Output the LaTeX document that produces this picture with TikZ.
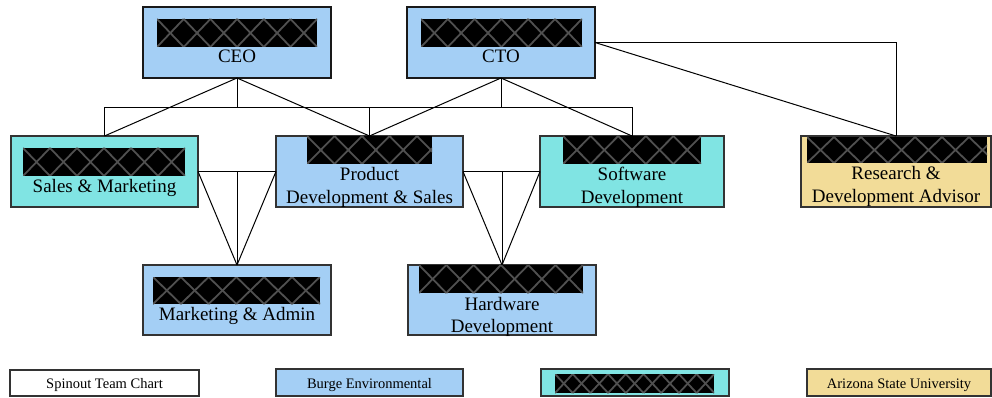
\documentclass[tikz,border=0pt]{standalone}
\usepackage{fontspec}
\setmainfont{Liberation Serif}
\definecolor{boxblue}{HTML}{A4CFF5}
\definecolor{boxcyan}{HTML}{80E4E3}
\definecolor{boxtan}{HTML}{F2DC98}
\definecolor{hatchgray}{HTML}{505050}
\newcommand{\hatchbar}[5]{%
  \fill[black] (#1,#2) rectangle (#3,#4);
  \begin{scope}
    \clip (#1,#2) rectangle (#3,#4);
    \foreach \k in {0,...,12} {
      \draw[hatchgray, line width=1.8pt] ({#1+\k*#5},#2) -- ({#1+(\k+1)*#5},#4);
      \draw[hatchgray, line width=1.8pt] ({#1+\k*#5},#4) -- ({#1+(\k+1)*#5},#2);
    }
  \end{scope}}
\begin{document}
\begin{tikzpicture}[x=1pt,y=-1pt,
  orgbox/.style={draw=black!80, line width=1.2pt, inner sep=0pt, outer sep=0pt},
  topbox/.style={orgbox, line width=2.2pt, draw=black!90},
  lbl/.style={anchor=base, inner sep=0pt, font=\fontsize{19}{22}\selectfont},
  leglbl/.style={anchor=base, inner sep=0pt, font=\fontsize{14.5}{17}\selectfont},
  conn/.style={draw=black, line width=1pt}]
\useasboundingbox (0,0) rectangle (992,398);

% boxes
\node[topbox, fill=boxblue, minimum width=188pt, minimum height=71pt] (ceo) at (237,42.5) {};
\node[topbox, fill=boxblue, minimum width=188pt, minimum height=71pt] (cto) at (501,42.5) {};
\node[orgbox, fill=boxcyan, minimum width=187pt, minimum height=71pt] (sales) at (104.5,171.5) {};
\node[orgbox, fill=boxblue, minimum width=187pt, minimum height=71pt] (prod) at (369.5,171.5) {};
\node[orgbox, fill=boxcyan, minimum width=184pt, minimum height=71pt] (soft) at (632,171.5) {};
\node[orgbox, fill=boxtan, minimum width=190pt, minimum height=71pt] (rnd) at (896,171.5) {};
\node[orgbox, fill=boxblue, minimum width=188pt, minimum height=70pt] (mkt) at (237,300) {};
\node[orgbox, fill=boxblue, minimum width=188pt, minimum height=70pt] (hw) at (502,300) {};

% connectors
\draw[conn] (ceo.south) -- ++(0,30) -| (sales.north);
\draw[conn] (ceo.south) -- (sales.north);
\draw[conn] (ceo.south) -- ++(0,30) -| (prod.north);
\draw[conn] (ceo.south) -- (prod.north);
\draw[conn] (cto.south) -- ++(0,30) -| (prod.north);
\draw[conn] (cto.south) -- (prod.north);
\draw[conn] (cto.south) -- ++(0,30) -| (soft.north);
\draw[conn] (cto.south) -- (soft.north);
\draw[conn] (cto.east) -| (rnd.north);
\draw[conn] (cto.east) -- (rnd.north);
\draw[conn] (sales.east) -| (mkt.north);
\draw[conn] (sales.east) -- (mkt.north);
\draw[conn] (prod.west) -| (mkt.north);
\draw[conn] (prod.west) -- (mkt.north);
\draw[conn] (prod.east) -| (hw.north);
\draw[conn] (prod.east) -- (hw.north);
\draw[conn] (soft.west) -| (hw.north);
\draw[conn] (soft.west) -- (hw.north);

% redacted bars
\hatchbar{157}{19}{317}{47}{26.7}
\hatchbar{421}{19}{582}{47}{26.8}
\hatchbar{23}{148}{185}{176}{27}
\hatchbar{307}{136}{432}{164}{27.5}
\hatchbar{563}{136}{701}{164}{27.6}
\hatchbar{807}{137}{987}{163}{27}
\hatchbar{153}{277}{320}{304}{27.8}
\hatchbar{419}{265}{583}{293}{27.3}

% labels
\node[lbl] (ceot) at (237,63) {CEO};
\node[lbl] (ctot) at (501,63) {CTO};
\node[lbl] (salest) at (104.5,192) {Sales \& Marketing};
\node[lbl] (prodt1) at (369.5,181) {Product};
\node[lbl] (prodt2) at (369.5,203) {Development \& Sales};
\node[lbl] (softt1) at (632,181) {Software};
\node[lbl] (softt2) at (632,203) {Development};
\node[lbl] (rndt1) at (896,179) {Research \&};
\node[lbl] (rndt2) at (896,202) {Development Advisor};
\node[lbl] (mktt) at (237,320) {Marketing \& Admin};
\node[lbl] (hwt1) at (502,310) {Hardware};
\node[lbl] (hwt2) at (502,332) {Development};

% legend
\node[orgbox, fill=white, minimum width=189pt, minimum height=26pt] (leg1) at (104.5,383) {};
\node[orgbox, fill=boxblue, minimum width=187pt, minimum height=27pt] (leg2) at (369.5,382.5) {};
\node[orgbox, fill=boxcyan, minimum width=188pt, minimum height=27pt] (leg3) at (635,382.5) {};
\node[orgbox, fill=boxtan, minimum width=184pt, minimum height=27pt] (leg4) at (899,382.5) {};
\hatchbar{555}{374}{714}{393}{17.7}
\node[leglbl] (leg1t) at (104.5,388) {Spinout Team Chart};
\node[leglbl] (leg2t) at (369.5,388) {Burge Environmental};
\node[leglbl] (leg4t) at (899,388) {Arizona State University};
\end{tikzpicture}
\end{document}
